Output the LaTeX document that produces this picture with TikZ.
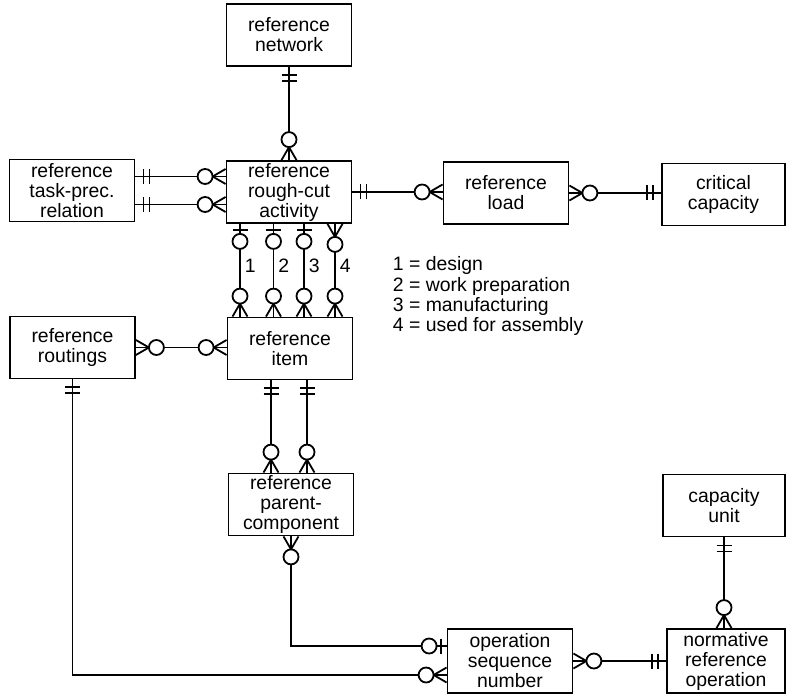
\documentclass[tikz,border=0pt]{standalone}
\usepackage{fontspec}
\setmainfont{Liberation Sans}
\usepackage{tikz}

\tikzset{
  entity/.style={draw, minimum width=62.5pt, minimum height=31pt, inner sep=0pt, align=center,
    font=\fontsize{9.7pt}{10pt}\selectfont},
  %crow's foot with circle (zero or many)
  manyopt/.pic={\draw (0,-7.5) -- (13,0) -- (0,7.5); \draw[fill=white] (20.5,0) circle (7.5);},
  %single bar with circle (zero or one)
  oneopt/.pic={\draw (6,-7.5) -- (6,7.5); \draw[fill=white] (17.5,0) circle (7.5);},
  %double bar (exactly one)
  oneone/.pic={\draw (8,-7.5) -- (8,7.5) (14,-7.5) -- (14,7.5);}
}

\begin{document}
\begin{tikzpicture}[x=0.5pt,y=0.5pt,yscale=-1,xscale=1,line width=0.9pt]
\useasboundingbox (0,0) rectangle (786,694);

%Shape: Rectangle
\node[entity] (net) at (289,35) {reference\\network};
\node[entity] (rca) at (289,192) {reference\\rough-cut\\activity};
\node[entity] (task) at (72,190.5) {reference\\task-prec.\\relation};
\node[entity] (load) at (506,193) {reference\\load};
\node[entity, minimum width=61.5pt] (crit) at (723.5,194.5) {critical\\capacity};
\node[entity] (item) at (290,348.5) {reference\\item};
\node[entity] (rout) at (72.5,347.5) {reference\\routings};
\node[entity] (parent) at (291,504.5) {reference\\parent-\\component};
\node[entity, minimum width=61pt] (capu) at (724,505.5) {capacity\\unit};
\node[entity, minimum height=32pt] (opseq) at (510,661) {operation\\sequence\\number};
\node[entity, minimum width=59pt, minimum height=32pt] (norm) at (726,661) {normative\\reference\\operation};

% Text Node
\node[anchor=north west, align=left, inner sep=0pt, font=\fontsize{9.7pt}{8.3pt}\selectfont] (legend) at (392,256)
  {1 = design\\2 = work preparation\\3 = manufacturing\\4 = used for assembly};

%Lines
\draw (net.south) -- (net.south |- rca.north);
\draw ([yshift=7pt]task.east) -- ([yshift=7pt]task.east -| rca.west);
\draw ([yshift=-7pt]task.east) -- ([yshift=-7pt]task.east -| rca.west);
\draw (rca.east) -- (rca.east -| load.west);
\draw (load.east) -- (load.east -| crit.west);
\draw (rout.east) -- (rout.east -| item.west);
\draw ([xshift=-9.5pt]item.south) -- ([xshift=-9.5pt]item.south |- parent.north);
\draw ([xshift=8.5pt]item.south) -- ([xshift=8.5pt]item.south |- parent.north);
\draw (parent.south) |- ([yshift=-7.5pt]opseq.west);
\draw (rout.south) |- ([yshift=7pt]opseq.west);
\draw (opseq.east) -- (opseq.east -| norm.west);
\draw (capu.south) -- (capu.south |- norm.north);

\foreach \dx/\num in {-24.5/1,-7.75/2,7.5/3,23/4}{
  \draw ([xshift=\dx pt]rca.south) -- node[right, pos=0.45, inner sep=2pt, font=\fontsize{9.7pt}{10pt}\selectfont] {\num} ([xshift=\dx pt]rca.south |- item.north);
  \pic[rotate=90] at ([xshift=\dx pt]rca.south |- item.north) {manyopt};
}
\foreach \dx in {-24.5,-7.75,7.5}
  \pic[rotate=270] at ([xshift=\dx pt]rca.south) {oneopt};
\pic[rotate=270] at ([xshift=23pt]rca.south) {manyopt};

%Line ends
\pic[rotate=270] at (net.south) {oneone};
\pic[rotate=90] at (net.south |- rca.north) {manyopt};
\pic at ([yshift=7pt]task.east) {oneone};
\pic at ([yshift=-7pt]task.east) {oneone};
\pic[rotate=180] at ([yshift=7pt]task.east -| rca.west) {manyopt};
\pic[rotate=180] at ([yshift=-7pt]task.east -| rca.west) {manyopt};
\pic at (rca.east) {oneone};
\pic[rotate=180] at (rca.east -| load.west) {manyopt};
\pic at (load.east) {manyopt};
\pic[rotate=180] at (load.east -| crit.west) {oneone};
\pic at (rout.east) {manyopt};
\pic[rotate=180] at (rout.east -| item.west) {manyopt};
\pic[rotate=270] at ([xshift=-9.5pt]item.south) {oneone};
\pic[rotate=270] at ([xshift=8.5pt]item.south) {oneone};
\pic[rotate=90] at ([xshift=-9.5pt]item.south |- parent.north) {manyopt};
\pic[rotate=90] at ([xshift=8.5pt]item.south |- parent.north) {manyopt};
\pic[rotate=270] at (parent.south) {manyopt};
\pic[rotate=180] at ([yshift=-7.5pt]opseq.west) {oneopt};
\pic[rotate=270] at (rout.south) {oneone};
\pic[rotate=180] at ([yshift=7pt]opseq.west) {manyopt};
\pic at (opseq.east) {manyopt};
\pic[rotate=180] at (opseq.east -| norm.west) {oneone};
\pic[rotate=270] at (capu.south) {oneone};
\pic[rotate=90] at (capu.south |- norm.north) {manyopt};

\end{tikzpicture}
\end{document}
